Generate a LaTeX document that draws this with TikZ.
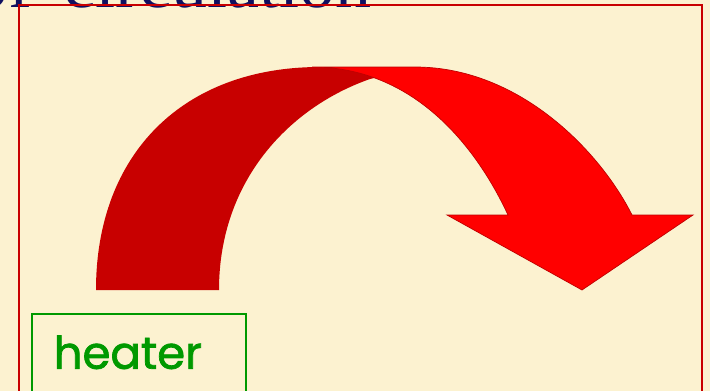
\documentclass[tikz,border=0pt]{standalone}
\usepackage{fontspec}
\setmainfont{Liberation Serif}
\newfontfamily\handfont[FakeBold=1.6]{Poppins}
\usetikzlibrary{positioning}
\definecolor{cream}{RGB}{252,242,208}
\definecolor{darkred}{RGB}{200,0,0}
\definecolor{brightred}{RGB}{255,0,0}
\definecolor{edgered}{RGB}{190,0,0}
\definecolor{navy}{RGB}{16,16,96}
\definecolor{heatgreen}{RGB}{0,153,0}
\tikzset{
    frame/.style={draw=darkred, line width=2pt},
    backband/.style={fill=darkred},
    frontband/.style={fill=brightred, draw=edgered, line width=0.7pt},
    box/.style={draw=heatgreen, line width=1.5pt, text=heatgreen,
        font=\handfont\fontsize{45}{50}\selectfont, anchor=north west,
        text width=170pt, align=left, inner xsep=22pt, inner ysep=10pt,
        text height=45pt, text depth=42pt},
    title/.style={text=navy, font=\fontsize{72}{80}\selectfont,
        anchor=base west, inner sep=0pt},
}

\begin{document}
\begin{tikzpicture}[x=1pt, y=-1pt]
    \useasboundingbox (0,0) rectangle (710,391);
    \clip (0,0) rectangle (710,391);
    \fill[cream] (0,0) rectangle (710,391);

    % Antraste (nukirpta virsuje)
    \node[title] (title) at (-28,7) {of\hspace{31pt}circulation};

    % Remelis
    \draw[frame] (19,5) rectangle (702,420);

    % Galine juosta
    \fill[backband] (96,290) .. controls (96,154) and (183,67) .. (320,67)
        -- (420,67) -- (370,79) .. controls (290,107) and (219,180) .. (219,290) -- cycle;

    % Priekine juosta su smaigaliu
    \filldraw[frontband] (312,67) -- (415,67) .. controls (520,67) and (600.7,152.4) .. (632,215)
        -- (693,215) -- (582,290) -- (447,215) -- (508,215)
        .. controls (480.7,155.9) and (420,67) .. (312,67) -- cycle;

    % Sildytuvas
    \node[box] (heater) at (31,313) {heater};
\end{tikzpicture}
\end{document}
